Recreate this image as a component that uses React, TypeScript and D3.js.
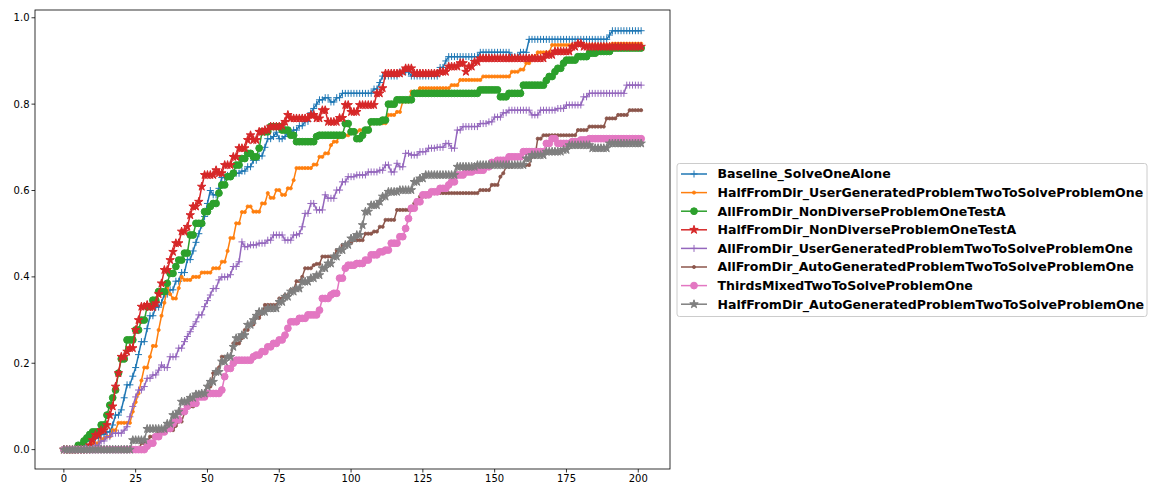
import React from 'react';
import * as d3 from 'd3';

type Pt = [number, number];

const xMax = 201;
const xTicks = [0, 25, 50, 75, 100, 125, 150, 175, 200];
const yTicks = [0, 0.2, 0.4, 0.6, 0.8, 1.0];

// Step data: [x where value starts, value]; value holds until next entry
const baselineSolveOneAlone: Pt[] = [[0,0],[6,0.01],[8,0.02],[10,0.027],[13,0.035],[15,0.041],[17,0.057],[18,0.08],[20,0.092],[21,0.12],[22,0.15],[24,0.17],[25,0.19],[26,0.22],[27,0.25],[29,0.28],[30,0.31],[32,0.33],[34,0.34],[35,0.36],[37,0.37],[39,0.39],[41,0.41],[43,0.44],[45,0.46],[46,0.48],[47,0.5],[48,0.52],[49,0.54],[50,0.57],[51,0.6],[52,0.59],[54,0.605],[55,0.63],[57,0.635],[59,0.64],[62,0.645],[64,0.655],[66,0.67],[68,0.68],[70,0.7],[71,0.72],[73,0.725],[74,0.735],[75,0.72],[77,0.725],[78,0.735],[80,0.74],[82,0.75],[84,0.76],[86,0.78],[87,0.79],[88,0.8],[89,0.81],[91,0.815],[93,0.805],[95,0.815],[97,0.825],[108,0.835],[110,0.85],[111,0.865],[117,0.875],[121,0.865],[131,0.885],[133,0.9],[134,0.91],[145,0.92],[156,0.91],[159,0.92],[162,0.95],[190,0.96],[191,0.97]];

const halfUserGenerated: Pt[] = [[0,0],[8,0.005],[10,0.015],[13,0.025],[15,0.03],[17,0.045],[19,0.062],[24,0.088],[25,0.11],[26,0.13],[27,0.16],[28,0.19],[30,0.215],[31,0.24],[33,0.277],[34,0.31],[35,0.34],[36,0.374],[37,0.36],[38,0.35],[40,0.374],[41,0.4],[42,0.393],[45,0.4],[48,0.41],[52,0.42],[55,0.435],[57,0.46],[58,0.49],[60,0.524],[62,0.55],[64,0.563],[66,0.551],[69,0.57],[71,0.594],[72,0.583],[74,0.601],[76,0.59],[78,0.605],[80,0.624],[81,0.652],[87,0.66],[89,0.678],[91,0.686],[93,0.705],[94,0.713],[96,0.728],[100,0.736],[103,0.74],[107,0.756],[113,0.775],[116,0.782],[118,0.806],[121,0.829],[124,0.837],[135,0.844],[138,0.856],[146,0.864],[156,0.875],[159,0.88],[161,0.895],[163,0.91],[165,0.92],[170,0.937],[191,0.94]];

const allNonDiverse: Pt[] = [[0,0],[5,0.01],[7,0.02],[8,0.027],[9,0.035],[10,0.041],[13,0.057],[15,0.08],[16,0.103],[17,0.12],[18,0.138],[19,0.177],[20,0.21],[22,0.254],[25,0.277],[27,0.3],[29,0.331],[31,0.346],[33,0.366],[36,0.385],[37,0.408],[39,0.424],[40,0.439],[42,0.455],[44,0.497],[46,0.524],[49,0.551],[51,0.563],[52,0.57],[54,0.594],[55,0.613],[57,0.632],[59,0.64],[60,0.659],[62,0.674],[64,0.686],[66,0.678],[68,0.698],[69,0.736],[72,0.748],[76,0.74],[79,0.728],[81,0.713],[88,0.725],[89,0.728],[98,0.755],[100,0.736],[102,0.72],[104,0.728],[105,0.74],[107,0.759],[111,0.763],[113,0.8],[116,0.81],[122,0.825],[145,0.833],[152,0.817],[155,0.825],[160,0.844],[168,0.855],[169,0.864],[171,0.875],[172,0.883],[174,0.895],[175,0.902],[179,0.91],[183,0.918],[186,0.922],[191,0.93]];

const halfNonDiverse: Pt[] = [[0,0],[9,0.01],[10,0.022],[11,0.034],[13,0.045],[15,0.057],[16,0.08],[17,0.1],[18,0.146],[19,0.177],[20,0.215],[22,0.227],[23,0.235],[25,0.277],[26,0.3],[27,0.331],[29,0.335],[30,0.33],[32,0.339],[33,0.36],[34,0.385],[35,0.416],[37,0.439],[38,0.458],[39,0.478],[41,0.505],[43,0.516],[44,0.543],[45,0.563],[47,0.574],[48,0.609],[49,0.636],[53,0.647],[54,0.64],[56,0.659],[59,0.678],[61,0.698],[64,0.717],[65,0.728],[66,0.717],[68,0.736],[70,0.74],[72,0.748],[76,0.75],[77,0.759],[78,0.775],[79,0.767],[86,0.775],[88,0.767],[90,0.786],[92,0.759],[96,0.768],[98,0.798],[100,0.782],[103,0.798],[109,0.825],[111,0.837],[112,0.871],[118,0.875],[119,0.883],[122,0.871],[131,0.875],[134,0.887],[138,0.895],[140,0.875],[141,0.887],[143,0.898],[145,0.906],[166,0.906],[168,0.914],[171,0.922],[177,0.933],[179,0.94],[181,0.933]];

const allUserGenerated: Pt[] = [[0,0],[11,0.01],[13,0.02],[15,0.03],[17,0.038],[21,0.045],[22,0.053],[23,0.076],[24,0.1],[25,0.122],[26,0.138],[28,0.146],[29,0.165],[31,0.173],[33,0.184],[34,0.196],[35,0.19],[37,0.215],[40,0.235],[42,0.25],[43,0.262],[44,0.273],[45,0.285],[46,0.296],[47,0.312],[49,0.331],[50,0.345],[51,0.358],[52,0.373],[54,0.393],[55,0.4],[58,0.405],[59,0.424],[61,0.435],[62,0.481],[63,0.47],[65,0.474],[68,0.478],[71,0.485],[73,0.497],[77,0.485],[80,0.497],[82,0.5],[83,0.516],[84,0.547],[86,0.57],[88,0.555],[91,0.59],[92,0.582],[95,0.601],[97,0.62],[99,0.632],[102,0.636],[106,0.643],[110,0.647],[112,0.659],[114,0.643],[116,0.663],[117,0.655],[119,0.686],[121,0.682],[124,0.69],[127,0.698],[130,0.7],[133,0.709],[135,0.698],[137,0.74],[139,0.748],[145,0.755],[148,0.759],[150,0.77],[153,0.78],[155,0.786],[163,0.775],[166,0.786],[172,0.79],[175,0.798],[181,0.817],[183,0.825],[196,0.844]];

const allAutoGenerated: Pt[] = [[0,0],[27,0.015],[30,0.03],[33,0.04],[36,0.045],[39,0.055],[40,0.065],[42,0.085],[43,0.1],[46,0.11],[47,0.13],[50,0.146],[52,0.177],[54,0.19],[55,0.215],[59,0.246],[62,0.258],[63,0.277],[65,0.29],[67,0.305],[69,0.316],[70,0.335],[75,0.35],[77,0.358],[79,0.37],[81,0.39],[83,0.4],[84,0.42],[87,0.427],[88,0.43],[90,0.447],[95,0.462],[97,0.474],[99,0.478],[101,0.485],[105,0.5],[108,0.505],[110,0.516],[112,0.532],[116,0.555],[122,0.57],[124,0.586],[127,0.594],[145,0.601],[149,0.613],[152,0.632],[153,0.64],[154,0.655],[157,0.659],[163,0.678],[165,0.72],[167,0.728],[179,0.74],[183,0.748],[189,0.767],[193,0.775],[197,0.786]];

const thirdsMixed: Pt[] = [[0,0],[29,0.008],[30,0.015],[32,0.03],[34,0.041],[36,0.049],[38,0.06],[39,0.069],[41,0.088],[43,0.1],[44,0.107],[47,0.122],[50,0.13],[55,0.138],[56,0.169],[57,0.188],[59,0.2],[60,0.207],[66,0.215],[67,0.219],[69,0.227],[71,0.238],[73,0.246],[75,0.254],[77,0.265],[78,0.281],[79,0.296],[82,0.304],[85,0.312],[89,0.323],[90,0.35],[93,0.358],[94,0.362],[96,0.397],[98,0.42],[99,0.427],[102,0.431],[105,0.439],[107,0.451],[110,0.458],[112,0.462],[114,0.478],[117,0.493],[119,0.512],[120,0.535],[121,0.559],[123,0.574],[125,0.59],[128,0.597],[131,0.605],[134,0.613],[135,0.62],[137,0.636],[140,0.643],[143,0.647],[147,0.655],[149,0.665],[151,0.67],[155,0.678],[160,0.69],[168,0.709],[170,0.72],[172,0.709],[177,0.713],[180,0.717],[183,0.72]];

const halfAutoGenerated: Pt[] = [[0,0],[24,0.022],[29,0.048],[36,0.06],[38,0.08],[40,0.088],[41,0.111],[44,0.12],[46,0.128],[48,0.13],[50,0.146],[51,0.157],[53,0.18],[55,0.204],[57,0.215],[59,0.238],[60,0.258],[62,0.265],[64,0.289],[66,0.3],[67,0.31],[68,0.319],[71,0.327],[75,0.342],[77,0.354],[79,0.366],[81,0.373],[83,0.389],[86,0.397],[88,0.404],[90,0.42],[92,0.431],[94,0.447],[96,0.462],[98,0.474],[100,0.489],[102,0.497],[104,0.52],[105,0.551],[107,0.566],[110,0.574],[111,0.586],[113,0.597],[117,0.601],[122,0.62],[124,0.628],[126,0.636],[137,0.655],[144,0.659],[161,0.674],[163,0.682],[168,0.69],[174,0.694],[176,0.705],[184,0.698],[190,0.709]];

const seriesNames = [
  'Baseline_SolveOneAlone',
  'HalfFromDir_UserGeneratedProblemTwoToSolveProblemOne',
  'AllFromDir_NonDiverseProblemOneTestA',
  'HalfFromDir_NonDiverseProblemOneTestA',
  'AllFromDir_UserGeneratedProblemTwoToSolveProblemOne',
  'AllFromDir_AutoGeneratedProblemTwoToSolveProblemOne',
  'ThirdsMixedTwoToSolveProblemOne',
  'HalfFromDir_AutoGeneratedProblemTwoToSolveProblemOne',
];
const seriesSteps = [baselineSolveOneAlone, halfUserGenerated, allNonDiverse, halfNonDiverse, allUserGenerated, allAutoGenerated, thirdsMixed, halfAutoGenerated];
const seriesColors = ['#1f77b4', '#ff7f0e', '#2ca02c', '#d62728', '#9467bd', '#8c564b', '#e377c2', '#7f7f7f'];
const seriesMarkers = ['+', '.', 'o', '*', '+', '.', 'o', '*'];

function expand(steps: Pt[]): Pt[] {
  const out: Pt[] = [];
  let j = 0;
  for (let x = 0; x <= xMax; x++) {
    while (j + 1 < steps.length && steps[j + 1][0] <= x) j++;
    out.push([x, steps[j][1]]);
  }
  return out;
}

const W = 1149, H = 489;
const L = 35, R = 670, T = 10, B = 469;

const xScale = d3.scaleLinear().domain([-10.05, 211.05]).range([L, R]);
const yScale = d3.scaleLinear().domain([-0.0449, 1.018]).range([B, T]);

const starPath = d3.symbol().type(d3.symbolStar).size(22)() as string;

function Marker({ type, color, x, y }: { type: string; color: string; x: number; y: number }) {
  if (type === '+') {
    return <path d={`M${x - 3.5},${y}H${x + 3.5}M${x},${y - 3.5}V${y + 3.5}`} stroke={color} strokeWidth={1} fill="none" />;
  }
  if (type === '.') {
    return <circle cx={x} cy={y} r={1.6} fill={color} stroke={color} strokeWidth={0.8} />;
  }
  if (type === 'o') {
    return <circle cx={x} cy={y} r={3.4} fill={color} stroke={color} strokeWidth={1} />;
  }
  return <path d={starPath} transform={`translate(${x},${y})`} fill={color} stroke={color} strokeWidth={1} />;
}

export default function App() {
  const line = d3.line<Pt>().x(d => xScale(d[0])).y(d => yScale(d[1]));
  const font = "'DejaVu Sans', sans-serif";
  const legendX = 677, legendY = 163.5, legendW = 470, legendH = 153;
  const entryY0 = 174, entryDy = 18.6;
  return (
    <svg width={W} height={H} style={{ position: 'absolute', left: 0, top: 0 }} fontFamily={font}>
      <rect x={0} y={0} width={W} height={H} fill="#fff" />
      <defs>
        <clipPath id="plotclip"><rect x={L} y={T} width={R - L} height={B - T} /></clipPath>
      </defs>
      <g clipPath="url(#plotclip)">
        {seriesSteps.map((steps, i) => {
          const pts = expand(steps);
          return (
            <g key={i}>
              <path d={line(pts) as string} fill="none" stroke={seriesColors[i]} strokeWidth={1.5} strokeLinejoin="round" />
              {pts.map((p, k) => (
                <Marker key={k} type={seriesMarkers[i]} color={seriesColors[i]} x={xScale(p[0])} y={yScale(p[1])} />
              ))}
            </g>
          );
        })}
      </g>
      <rect x={L} y={T} width={R - L} height={B - T} fill="none" stroke="#000" strokeWidth={0.8} />
      {xTicks.map(t => (
        <g key={t}>
          <line x1={xScale(t)} x2={xScale(t)} y1={B} y2={B + 3.5} stroke="#000" strokeWidth={0.8} />
          <text x={xScale(t)} y={B + 13} fontSize={10} textAnchor="middle" fill="#000">{t}</text>
        </g>
      ))}
      {yTicks.map(t => (
        <g key={t}>
          <line x1={L - 3.5} x2={L} y1={yScale(t)} y2={yScale(t)} stroke="#000" strokeWidth={0.8} />
          <text x={L - 5.5} y={yScale(t)} dy="0.35em" fontSize={10} textAnchor="end" fill="#000">{t.toFixed(1)}</text>
        </g>
      ))}
      <rect x={legendX} y={legendY} width={legendW} height={legendH} rx={2.5} fill="#fff" fillOpacity={0.8} stroke="#cccccc" strokeWidth={1} />
      {seriesNames.map((name, i) => {
        const y = entryY0 + i * entryDy;
        return (
          <g key={name}>
            <line x1={681} x2={707} y1={y} y2={y} stroke={seriesColors[i]} strokeWidth={1.5} />
            <Marker type={seriesMarkers[i]} color={seriesColors[i]} x={694} y={y} />
            <text x={717.5} y={y} dy="0.35em" fontSize={12.55} fontWeight="bold" fill="#000">{name}</text>
          </g>
        );
      })}
    </svg>
  );
}
